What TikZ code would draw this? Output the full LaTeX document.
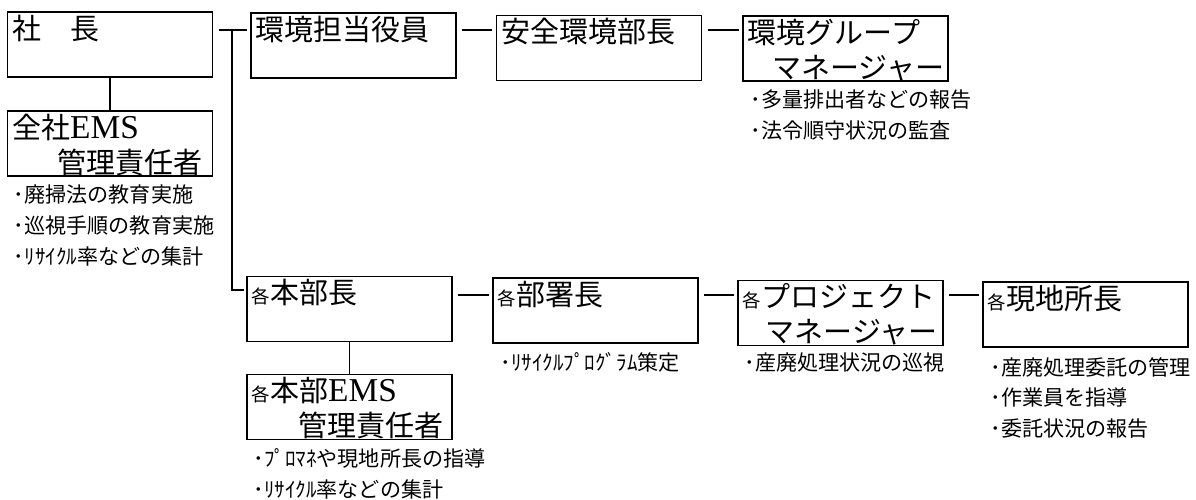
\documentclass[tikz,border=0pt]{standalone}
\usepackage{fontspec}
\setmainfont{Noto Sans CJK JP}
\newfontfamily\latin{Liberation Serif}

\tikzset{
    puesto/.style={draw, line width=1pt, minimum width=4.1cm, minimum height=1.3cm, inner sep=0pt},
    titulo/.style={anchor=north west, inner xsep=3pt, inner ysep=2pt, align=left, font=\fontsize{16.5}{20}\selectfont},
    tareas/.style={anchor=north west, inner sep=0pt, align=left, font=\fontsize{12}{17.5}\selectfont},
    linea/.style={line width=0.7pt},
}
\newcommand{\cada}{{\fontsize{10.5}{12}\selectfont 各}}
\newcommand{\ems}{{\latin\fontsize{19}{20}\selectfont EMS}}

\begin{document}
\begin{tikzpicture}

    \useasboundingbox (0,0) rectangle (23.92,-10);

    % Cajas de la fila superior
    \node[puesto] (shacho) at (2.2,-0.89) {};
    \node[puesto] (zensha) at (2.2,-2.87) {};
    \node[puesto] (yakuin) at (7.07,-0.91) {};
    \node[puesto] (anzen) at (11.98,-0.96) {};
    \node[puesto] (gurupu) at (16.91,-0.97) {};

    % Cajas de la fila inferior
    \node[puesto] (honbu) at (6.99,-6.18) {};
    \node[puesto] (honbuems) at (6.99,-8.14) {};
    \node[puesto] (busho) at (11.91,-6.21) {};
    \node[puesto] (pm) at (16.81,-6.26) {};
    \node[puesto] (genchi) at (21.71,-6.29) {};

    % Textos de las cajas
    \node[titulo] (shacho-t) at (shacho.north west) {社　長};
    \node[titulo] (zensha-t) at (zensha.north west) {全社\ems\\\hspace*{1.55em}管理責任者};
    \node[titulo] (yakuin-t) at (yakuin.north west) {環境担当役員};
    \node[titulo] (anzen-t) at (anzen.north west) {安全環境部長};
    \node[titulo] (gurupu-t) at (gurupu.north west) {環境グループ\\\hspace*{0.85em}マネージャー};
    \node[titulo] (honbu-t) at (honbu.north west) {\cada 本部長};
    \node[titulo] (honbuems-t) at (honbuems.north west) {\cada 本部\ems\\\hspace*{1.6em}管理責任者};
    \node[titulo] (busho-t) at (busho.north west) {\cada 部署長};
    \node[titulo] (pm-t) at (pm.north west) {\cada プロジェクト\\\hspace*{0.8em}マネージャー};
    \node[titulo] (genchi-t) at (genchi.north west) {\cada 現地所長};

    % Tareas debajo de las cajas
    \node[tareas] (zensha-l) at ([shift={(0.14,-0.16)}]zensha.south west) {･廃掃法の教育実施\\･巡視手順の教育実施\\･ﾘｻｲｸﾙ率などの集計};
    \node[tareas] (gurupu-l) at ([shift={(0.16,-0.15)}]gurupu.south west) {･多量排出者などの報告\\･法令順守状況の監査};
    \node[tareas] (honbuems-l) at ([shift={(0.14,-0.16)}]honbuems.south west) {･ﾌﾟﾛﾏﾈや現地所長の指導\\･ﾘｻｲｸﾙ率などの集計};
    \node[tareas] (busho-l) at ([shift={(0.16,-0.16)}]busho.south west) {･ﾘｻｲｸﾙﾌﾟﾛｸﾞﾗﾑ策定};
    \node[tareas] (pm-l) at ([shift={(0.14,-0.13)}]pm.south west) {･産廃処理状況の巡視};
    \node[tareas] (genchi-l) at ([shift={(0.16,-0.18)}]genchi.south west) {･産廃処理委託の管理\\･作業員を指導\\･委託状況の報告};

    % Tronco y conexiones
    \coordinate (arriba) at (4.64,-0.6);
    \coordinate (abajo) at (4.64,-5.8);
    \coordinate (fila) at (0,-5.9);
    \draw[linea] ([xshift=3pt]shacho.east |- arriba) -- ([xshift=-2pt]yakuin.west |- arriba);
    \draw[linea] (arriba) -- (abajo) -- ([xshift=-1pt]honbu.west |- abajo);
    \foreach \a/\b in {yakuin/anzen, anzen/gurupu} {
        \draw[linea] ([xshift=3pt]\a.east |- arriba) -- ([xshift=-2pt]\b.west |- arriba);
    }
    \foreach \a/\b in {honbu/busho, busho/pm, pm/genchi} {
        \draw[linea] ([xshift=3pt]\a.east |- fila) -- ([xshift=-2pt]\b.west |- fila);
    }
    \draw[linea] (shacho) -- (zensha);
    \draw[linea] (honbu) -- (honbuems);

\end{tikzpicture}
\end{document}
